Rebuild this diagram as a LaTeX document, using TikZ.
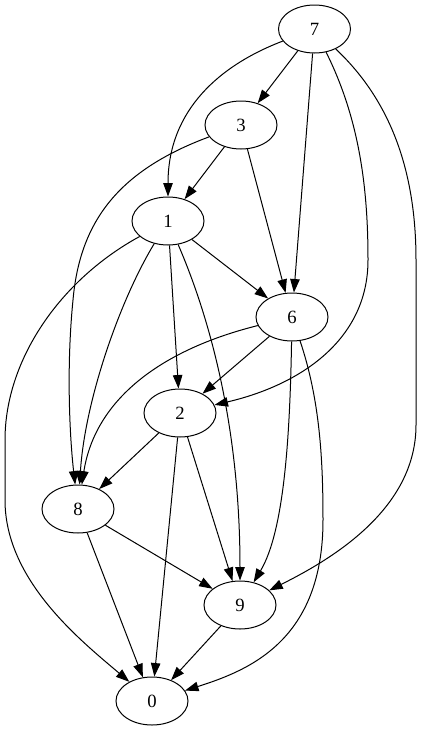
\documentclass[tikz,border=0pt]{standalone}
\usepackage{fontspec}
\setmainfont{Liberation Serif}
\usetikzlibrary{arrows.meta,shapes.geometric}
\begin{document}
\begin{tikzpicture}[x=1pt,y=-1pt,
  nd/.style={draw,ellipse,line width=1pt,minimum width=72pt,minimum height=48pt,inner sep=0pt,font=\fontsize{18.7}{22}\selectfont},
  ed/.style={draw,line width=1pt,-{Triangle[length=13.5pt,width=9.5pt]}}]
\fill[white] (0,0) rectangle (421,731);
\useasboundingbox (0,0) rectangle (421,731);
\node[nd] (n7) at (314.5,29) {7};
\node[nd] (n3) at (241,125) {3};
\node[nd] (n1) at (168,221) {1};
\node[nd] (n6) at (292,317) {6};
\node[nd] (n2) at (180,413) {2};
\node[nd] (n8) at (78,509) {8};
\node[nd] (n9) at (240,605) {9};
\node[nd] (n0) at (152,701) {0};
% from 7
\draw[ed] (n7) -- (n3);
\draw[ed] (n7) .. controls (220,65) and (168,110) .. (n1);
\draw[ed] (n7) -- (n6);
\draw[ed] (n7) .. controls (360,120) and (368,190) .. (368,260) .. controls (368,340) and (300,385) .. (n2);
\draw[ed] (n7) .. controls (390,100) and (416,170) .. (416,260) -- (416,425) .. controls (416,510) and (330,560) .. (n9);
% from 3
\draw[ed] (n3) -- (n1);
\draw[ed] (n3) -- (n6);
\draw[ed] (n3) .. controls (120,170) and (80,220) .. (73,300) .. controls (66,370) and (70,440) .. (n8);
% from 1
\draw[ed] (n1) -- (n6);
\draw[ed] (n1) -- (n2);
\draw[ed] (n1) .. controls (215,330) and (240,440) .. (n9);
\draw[ed] (n1) .. controls (120,300) and (85,400) .. (n8);
\draw[ed] (n1) .. controls (60,280) and (5,360) .. (5,440) -- (5,500) .. controls (5,580) and (80,640) .. (n0);
% from 6
\draw[ed] (n6) -- (n2);
\draw[ed] (n6) .. controls (290,430) and (285,530) .. (n9);
\draw[ed] (n6) .. controls (160,350) and (95,400) .. (n8);
\draw[ed] (n6) .. controls (320,400) and (323,460) .. (323,520) .. controls (323,640) and (250,670) .. (n0);
% from 2
\draw[ed] (n2) -- (n8);
\draw[ed] (n2) -- (n9);
\draw[ed] (n2) -- (n0);
% from 8, 9
\draw[ed] (n8) -- (n9);
\draw[ed] (n8) -- (n0);
\draw[ed] (n9) -- (n0);
\end{tikzpicture}
\end{document}
